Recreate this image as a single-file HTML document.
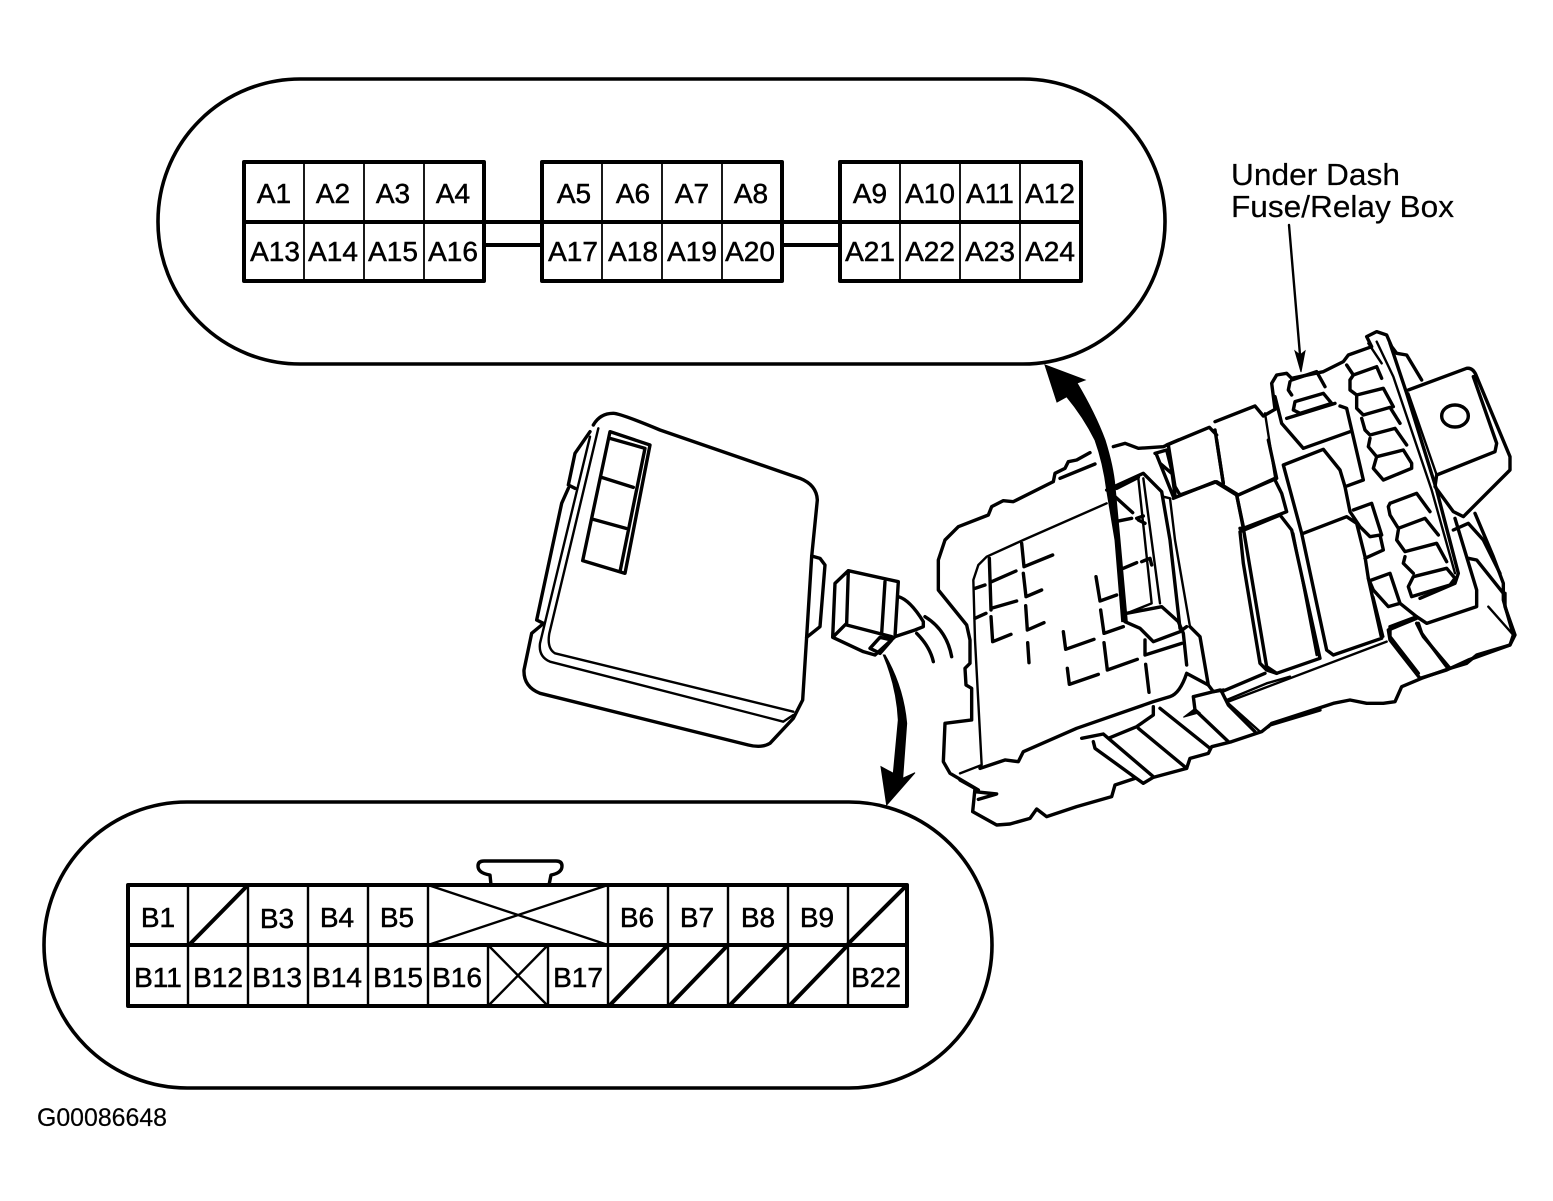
<!DOCTYPE html>
<html><head><meta charset="utf-8"><style>
html,body{margin:0;padding:0;background:#fff}
svg{display:block}
text{font-family:"Liberation Sans",sans-serif;fill:#000;stroke:#000;stroke-width:.5}
.a text,.b text{font-size:28px;text-anchor:middle}
path,rect,ellipse,line{vector-effect:non-scaling-stroke}
.t{fill:none;stroke:#000;stroke-width:3.4;stroke-linejoin:round;stroke-linecap:round}
.m{fill:none;stroke:#000;stroke-width:2.4;stroke-linejoin:round;stroke-linecap:round}
.f{fill:#000;stroke:#000;stroke-width:1}
</style></head><body>
<svg width="1553" height="1201" viewBox="0 0 1553 1201" xmlns="http://www.w3.org/2000/svg">
<rect width="1553" height="1201" fill="#fff"/>

<rect x="158" y="79" width="1007" height="285" rx="142" ry="142" fill="none" stroke="#000" stroke-width="3.6"/>
<rect x="44" y="802" width="948" height="286" rx="143" ry="143" fill="none" stroke="#000" stroke-width="3.6"/>

<g class="t" style="stroke-width:4">
<rect x="244" y="162" width="240" height="119"/>
<rect x="542" y="162" width="240" height="119"/>
<rect x="840" y="162" width="241" height="119"/>
<path d="M244 222H1081M484 245H542M782 245H840"/>
</g>
<path class="m" style="stroke-width:1.8" d="M304 162V281M364 162V281M424 162V281M602 162V281M662 162V281M722 162V281M900 162V281M960 162V281M1020 162V281"/>
<g class="a">
<text x="274" y="203">A1</text><text x="333" y="203">A2</text><text x="393" y="203">A3</text><text x="453" y="203">A4</text>
<text x="574" y="203">A5</text><text x="633" y="203">A6</text><text x="692" y="203">A7</text><text x="751" y="203">A8</text>
<text x="870" y="203">A9</text><text x="930" y="203">A10</text><text x="990" y="203">A11</text><text x="1050" y="203">A12</text>
<text x="275" y="261">A13</text><text x="333" y="261">A14</text><text x="393" y="261">A15</text><text x="453" y="261">A16</text>
<text x="573" y="261">A17</text><text x="633" y="261">A18</text><text x="692" y="261">A19</text><text x="750" y="261">A20</text>
<text x="870" y="261">A21</text><text x="930" y="261">A22</text><text x="990" y="261">A23</text><text x="1050" y="261">A24</text>
</g>

<path class="t" d="M491 885L490 875Q478 873 478 866Q478 861 484 861H556Q562 861 562 866Q562 873 551 875L549 885"/>
<g class="t" style="stroke-width:4">
<rect x="128" y="885" width="779" height="121"/>
<path d="M128 945H907"/>
<path d="M190 944L247 886M848 944L906 886M610 1005L667 946M670 1005L727 946M730 1005L787 946M790 1005L847 946"/>
</g>
<path class="m" d="M188 885V1006M248 885V1006M308 885V1006M368 885V1006M428 885V1006M608 885V1006M668 885V1006M728 885V1006M788 885V1006M848 885V1006M488 945V1006M548 945V1006"/>
<path class="m" d="M428 885L608 945M608 885L428 945M488 945L548 1006M548 945L488 1006"/>
<g class="b">
<text x="158" y="927">B1</text><text x="277" y="928">B3</text><text x="337" y="927">B4</text><text x="397" y="927">B5</text>
<text x="637" y="927">B6</text><text x="697" y="927">B7</text><text x="758" y="927">B8</text><text x="817" y="927">B9</text>
<text x="158" y="987">B11</text><text x="218" y="987">B12</text><text x="277" y="987">B13</text><text x="337" y="987">B14</text>
<text x="398" y="987">B15</text><text x="457" y="987">B16</text><text x="578" y="987">B17</text><text x="876" y="987">B22</text>
</g>

<text x="1231" y="185" font-size="31" textLength="169" lengthAdjust="spacingAndGlyphs" style="stroke-width:.2">Under Dash</text>
<text x="1231" y="217" font-size="31" textLength="223" lengthAdjust="spacingAndGlyphs" style="stroke-width:.2">Fuse/Relay Box</text>
<text x="37" y="1126" font-size="25" textLength="130" lengthAdjust="spacingAndGlyphs" style="stroke-width:.2">G00086648</text>

<path class="m" d="M1289 225L1300 355"/>
<path class="f" d="M1295 351L1301 372L1305 351L1300 355Z"/>

<!-- cover and connector -->
<g transform="translate(510,400) scale(.33333)">
<path class="t" d="M250 75Q270 40 310 40Q330 40 450 90L870 235Q920 255 922 300L905 470L890 710L878 900L850 955L780 1030Q755 1045 715 1035L90 880Q40 860 42 810L65 700L95 675"/>
<path class="t" d="M240 95L195 160L175 255L195 265M175 265L155 310L80 660L100 670"/>
<path class="m" d="M265 85L190 400L118 700Q110 745 135 760L850 935M240 110L90 730Q85 770 120 785L820 965L850 945"/>
<path class="t" d="M300 95L420 135L345 520L218 482ZM300 115L405 145L330 515M275 232L370 262M250 358L348 385"/>
<path class="t" d="M905 468L930 475L945 495L930 680L890 712"/>
<path class="t" d="M975 550L1015 512L1165 545L1155 710L1095 765L1060 755L968 712ZM1015 512L1010 670L975 705M1010 675L1145 710M1125 545L1115 700M1080 745L1110 712L1145 720L1110 760Z"/>
<path class="t" d="M1165 590Q1200 600 1240 665L1240 680L1215 690L1155 710M1245 650Q1310 690 1325 770M1220 700Q1260 740 1270 785"/>
<path class="f" d="M1120 765Q1160 860 1165 960L1150 1120L1113 1100L1130 1215L1215 1118L1178 1135L1190 970Q1180 860 1125 765Z"/>
</g>

<!-- right part of fuse box -->
<g transform="translate(1160,330) scale(.33333)">
<path class="t" d="M20 345L148 292L170 315M165 275L285 228L310 258L345 238M345 238L335 160L350 135L380 130L395 145L490 125L550 95L565 75L635 50L620 20L650 5L680 15L695 50L710 70L740 75L785 150"/>
<path class="t" d="M345 200L365 280L430 355L570 305M540 228L560 235L610 450L555 470"/>
<path class="t" d="M25 345L45 470L60 495L170 455L235 495L345 445M165 300L190 460M230 495L250 590M345 450L365 490L380 545L250 595"/>
<path class="m" d="M315 250L345 440"/>
<path class="t" d="M240 605L360 555L395 600L480 985L350 1030L320 1020L300 1000L250 700Z"/>
<path class="m" d="M400 610L470 975"/>
<path class="t" d="M370 405L490 358L540 420L555 470L570 545L600 590L630 620L660 615L670 660L615 685M370 405L425 610L500 960L520 975L665 925L625 745L615 680L590 580L560 560L430 610M580 540L635 520L665 615"/>
<path class="m" d="M640 800L670 920"/>
<path class="t" d="M625 745L640 780L685 830L720 820L690 730L635 750M720 820L770 860L800 880L950 830L950 780L885 565M690 890L770 860M690 890L690 920L775 1030M775 880L785 910L860 1010"/>
<path class="t" d="M780 1045L860 1020L925 990L1050 945L1060 915L1030 810L1030 760L1000 680L945 550"/>
<path class="t" d="M745 180L920 115Q940 112 950 140L1050 380L1050 420L910 560L880 545L825 470L830 435L1005 365L1010 340L940 140"/>
<path class="t" d="M690 40L740 190L830 480L895 730L885 760L780 805"/>
<path class="m" d="M650 35L700 140L815 480L885 730M625 40L665 100M745 190L830 435"/>
<ellipse class="t" cx="885" cy="258" rx="40" ry="33"/>
<path class="t" d="M390 155L385 180L395 195M395 150L470 125L495 170M405 215L400 240L420 250L515 220L490 190ZM380 265L525 220"/>
<path class="t" d="M560 105L580 135L650 110L665 145M570 150L580 135M570 150L570 180L590 195L670 175L700 230M590 200L590 235L610 255L690 232L720 280M605 265L615 300L630 315L705 295L740 345M630 325L625 350L650 380L730 360L755 400L755 415L670 450L640 415L650 380"/>
<path class="t" d="M690 520L770 490L810 545M690 520L685 530L690 555L715 595L795 565L835 615M715 600L710 630L735 665L830 640L860 695M735 680L730 700L760 730M760 740L745 770L755 800L870 765L885 745L860 715L760 740"/>
<path class="t" d="M880 600L925 580L970 630L1020 730M925 685L950 690L1030 790"/>
<path class="m" d="M985 830L1060 915"/>
</g>

<!-- left part of fuse box -->
<g transform="translate(930,440) scale(.33333)">
<path class="t" d="M480 38L440 60L415 65L405 85L375 100L370 125L250 185L220 182L185 200L175 225L85 260L45 300L25 360L25 450L110 555L120 600L120 670L105 685L108 735L125 745L125 840L45 850L40 965L60 1000L145 1050"/>
<path class="t" d="M390 115L495 72M135 445L165 435M135 535L168 520"/>
<path class="m" d="M530 190L280 300L170 350L145 375L130 420L135 600L155 975L90 1000"/>
<path class="t" d="M178 355L183 510M185 425L258 393M183 505L260 483M275 310L282 380L368 345M280 400L288 470L335 450M287 497L292 570L342 548M183 530L188 605L243 583M293 608L297 668"/>
<path class="t" d="M498 410L510 483L560 465M512 510L522 580L580 560M400 575L407 628L492 598M522 608L532 690L622 658M412 685L418 733L505 703M647 673L657 757"/>
<path class="f" d="M345 -225L465 -180L441 -171Q495 -80 525 0Q550 80 555 140L570 300L592 545L575 545L555 300L530 150Q520 70 495 0Q460 -70 410 -130L381 -114Z"/>
<path class="t" d="M530 150L640 100L695 155L720 300L750 565M560 145L625 112M555 170L608 218M555 245L605 235M580 385L620 368M620 235L640 228M625 240L645 250M635 365L660 355L665 375"/>
<path class="m" d="M625 115L665 490L590 520M640 115L690 490M700 170L720 175L735 300L780 560"/>
<path class="t" d="M780 560L810 590L835 735M585 545L630 565L670 605L750 575L770 560M590 520L695 500L745 545L760 580L770 675M645 600L645 645L755 610"/>
<path class="t" d="M770 700L835 735L850 755L880 750M770 700Q750 760 720 770L670 785L440 865L280 935L265 965L225 960L150 985"/>
<path class="t" d="M790 770L870 750M790 770L795 810L895 905"/>
<path class="f" d="M795 805L760 832L810 818Z"/>
<path class="t" d="M875 755L895 795L975 875"/>
<path class="m" d="M890 780L1010 730L1080 710"/>
<path class="t" d="M730 175L855 125L920 165L940 265L1010 680L1040 700M930 265L945 265L1050 225M860 0L880 130M1015 0L1040 115L925 165"/>
<path class="t" d="M550 20L585 10L625 25L700 20L745 0M675 40L710 30L725 90L735 165M690 70L725 100M680 45L730 170"/>
</g>

<!-- bottom of fuse box -->
<g transform="translate(960,660) scale(.33333)">
<path class="t" d="M365 235L430 222L445 235L530 200L580 165L580 140M445 235L580 350M400 245L405 265L525 352L550 370L580 352L680 325L690 295L745 280L755 260L815 245L905 215L930 195L1080 150"/>
<path class="t" d="M535 205L680 325M600 145L750 265"/>
<path class="t" d="M0 360L45 385L38 455L110 495L150 492L210 475L230 447L260 470L350 440L455 410L465 375L525 355M45 395L110 402L55 418"/>
</g>

<!-- lower right of fuse box -->
<g transform="translate(1220,560) scale(.33333)">
<path class="t" d="M145 500L155 490L340 430L390 420L440 430L490 430L525 425L545 380L605 355L690 325L740 310L770 285L870 255L885 225L855 140L855 100"/>
<path class="t" d="M505 210L510 240L600 355M590 190L610 230L690 325M505 210L590 175M5 395L135 340"/>
<path class="m" d="M5 395L25 430L120 515M25 425L500 245"/>
</g>
</svg>
</body></html>
